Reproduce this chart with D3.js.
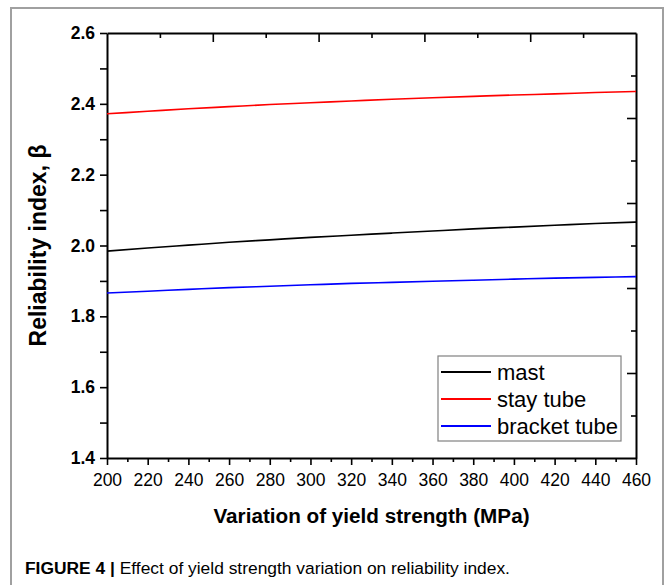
<!DOCTYPE html>
<html>
<head>
<meta charset="utf-8">
<script src="https://cdn.jsdelivr.net/npm/d3@7"></script>
<style>
    body { margin: 0; background: #fff; }
    svg { display: block; font-family: "Liberation Sans", Arial, sans-serif; }
    .domain { stroke: #000; stroke-width: 2; }
    .tick line { stroke: #000; stroke-width: 1.6; }
</style>
</head>
<body>
<svg width="665" height="585"></svg>
<script>
// yield strength (MPa)
let strength = [200, 220, 240, 260, 280, 300, 320, 340, 360, 380, 400, 420, 440, 460];

// reliability index
let mast        = [1.984, 1.993, 2.001, 2.009, 2.016, 2.023, 2.029, 2.035, 2.041, 2.047, 2.052, 2.057, 2.062, 2.066];
let stayTube    = [2.372, 2.379, 2.386, 2.392, 2.398, 2.403, 2.408, 2.413, 2.417, 2.421, 2.425, 2.428, 2.432, 2.435];
let bracketTube = [1.866, 1.871, 1.876, 1.881, 1.885, 1.889, 1.893, 1.896, 1.899, 1.902, 1.905, 1.908, 1.910, 1.912];

let seriesNames  = ["mast", "stay tube", "bracket tube"];
let seriesColors = ["#000000", "#ff0000", "#0000ff"];
let seriesValues = [mast, stayTube, bracketTube];

let xTicks = d3.range(200, 461, 20);
let yTicks = [1.4, 1.6, 1.8, 2.0, 2.2, 2.4, 2.6];

let svg = d3.select("svg");
let margin = { left: 107, right: 636, top: 33, bottom: 458 };

// outer figure frame
svg.append("rect")
    .attr("x", 11).attr("y", 8)
    .attr("width", 652).attr("height", 600)
    .attr("fill", "none")
    .attr("stroke", "#a0a0a0")
    .attr("stroke-width", 2);

let x = d3.scaleLinear().domain([200, 460]).range([margin.left, margin.right]);
let y = d3.scaleLinear().domain([1.4, 2.6]).range([margin.bottom, margin.top]);

// left axis: minor then labelled majors
svg.append("g")
    .attr("transform", `translate(${margin.left},0)`)
    .call(d3.axisLeft(y).tickValues(d3.range(1.5, 2.6, 0.2)).tickSize(7).tickFormat(""))
    .call(g => g.select(".domain").remove());
svg.append("g")
    .attr("class", "y-axis")
    .attr("transform", `translate(${margin.left},0)`)
    .call(d3.axisLeft(y).tickValues(yTicks).tickSize(7).tickSizeOuter(0).tickPadding(5).tickFormat(d3.format(".1f")))
    .call(g => g.selectAll("text")
        .attr("font-size", 17.5).attr("font-weight", "bold").attr("fill", "#000")
        .attr("font-family", "Liberation Sans, Arial, sans-serif"));

// bottom axis
svg.append("g")
    .attr("transform", `translate(0,${margin.bottom})`)
    .call(d3.axisBottom(x).tickValues(d3.range(210, 460, 20)).tickSize(4).tickFormat(""))
    .call(g => g.select(".domain").remove());
svg.append("g")
    .attr("transform", `translate(0,${margin.bottom})`)
    .call(d3.axisBottom(x).tickValues(xTicks).tickSize(7).tickSizeOuter(0).tickPadding(9).tickFormat(d3.format("d")))
    .call(g => g.selectAll("text")
        .attr("font-size", 17.5).attr("fill", "#000")
        .attr("font-family", "Liberation Sans, Arial, sans-serif"));

// top and right axes have their own 10 divisions, ticks pointing in
let top10 = d3.scaleLinear().domain([0, 10]).range([margin.left, margin.right]);
let right10 = d3.scaleLinear().domain([0, 10]).range([margin.bottom, margin.top]);
svg.append("g")
    .attr("transform", `translate(0,${margin.top})`)
    .call(d3.axisTop(top10).tickValues([1, 3, 5, 7, 9]).tickSize(-5).tickSizeOuter(0).tickFormat(""));
svg.append("g")
    .attr("transform", `translate(0,${margin.top})`)
    .call(d3.axisTop(top10).tickValues([2, 4, 6, 8]).tickSize(-9).tickFormat(""))
    .call(g => g.select(".domain").remove());
svg.append("g")
    .attr("transform", `translate(${margin.right},0)`)
    .call(d3.axisRight(right10).tickValues([1, 3, 5, 7, 9]).tickSize(-5).tickSizeOuter(0).tickFormat(""));
svg.append("g")
    .attr("transform", `translate(${margin.right},0)`)
    .call(d3.axisRight(right10).tickValues([2, 4, 6, 8]).tickSize(-9).tickFormat(""))
    .call(g => g.select(".domain").remove());

// curves
let line = d3.line()
    .x((d, i) => x(strength[i]))
    .y(d => y(d))
    .curve(d3.curveMonotoneX);

svg.selectAll(".series")
    .data(seriesValues)
    .enter()
    .append("path")
    .attr("class", "series")
    .attr("d", d => line(d))
    .attr("fill", "none")
    .attr("stroke", (d, i) => seriesColors[i])
    .attr("stroke-width", 1.6);

// legend
let legend = svg.append("g").attr("transform", "translate(438,356)");
legend.append("rect")
    .attr("width", 183).attr("height", 85)
    .attr("fill", "#fff")
    .attr("stroke", "#808080")
    .attr("stroke-width", 1.2);
let rows = legend.selectAll(".row")
    .data(seriesNames)
    .enter()
    .append("g")
    .attr("transform", (d, i) => `translate(0,${16 + i * 27})`);
rows.append("line")
    .attr("x1", 3).attr("x2", 53)
    .attr("stroke", (d, i) => seriesColors[i])
    .attr("stroke-width", 1.8);
rows.append("text")
    .attr("x", 59).attr("y", 7.5)
    .attr("font-size", 22)
    .text(d => d);

// axis titles
svg.append("text")
    .attr("x", (margin.left + margin.right) / 2)
    .attr("y", 523)
    .attr("text-anchor", "middle")
    .attr("font-size", 20.7)
    .attr("font-weight", "bold")
    .text("Variation of yield strength (MPa)");

svg.append("text")
    .attr("transform", `translate(46,${(margin.top + margin.bottom) / 2}) rotate(-90)`)
    .attr("text-anchor", "middle")
    .attr("font-size", 23)
    .attr("font-weight", "bold")
    .text("Reliability index, β");

// caption
let caption = svg.append("text")
    .attr("x", 25)
    .attr("y", 574)
    .attr("font-size", 17.4);
caption.append("tspan").attr("font-weight", "bold").text("FIGURE 4 | ");
caption.append("tspan").text("Effect of yield strength variation on reliability index.");
</script>
</body>
</html>
